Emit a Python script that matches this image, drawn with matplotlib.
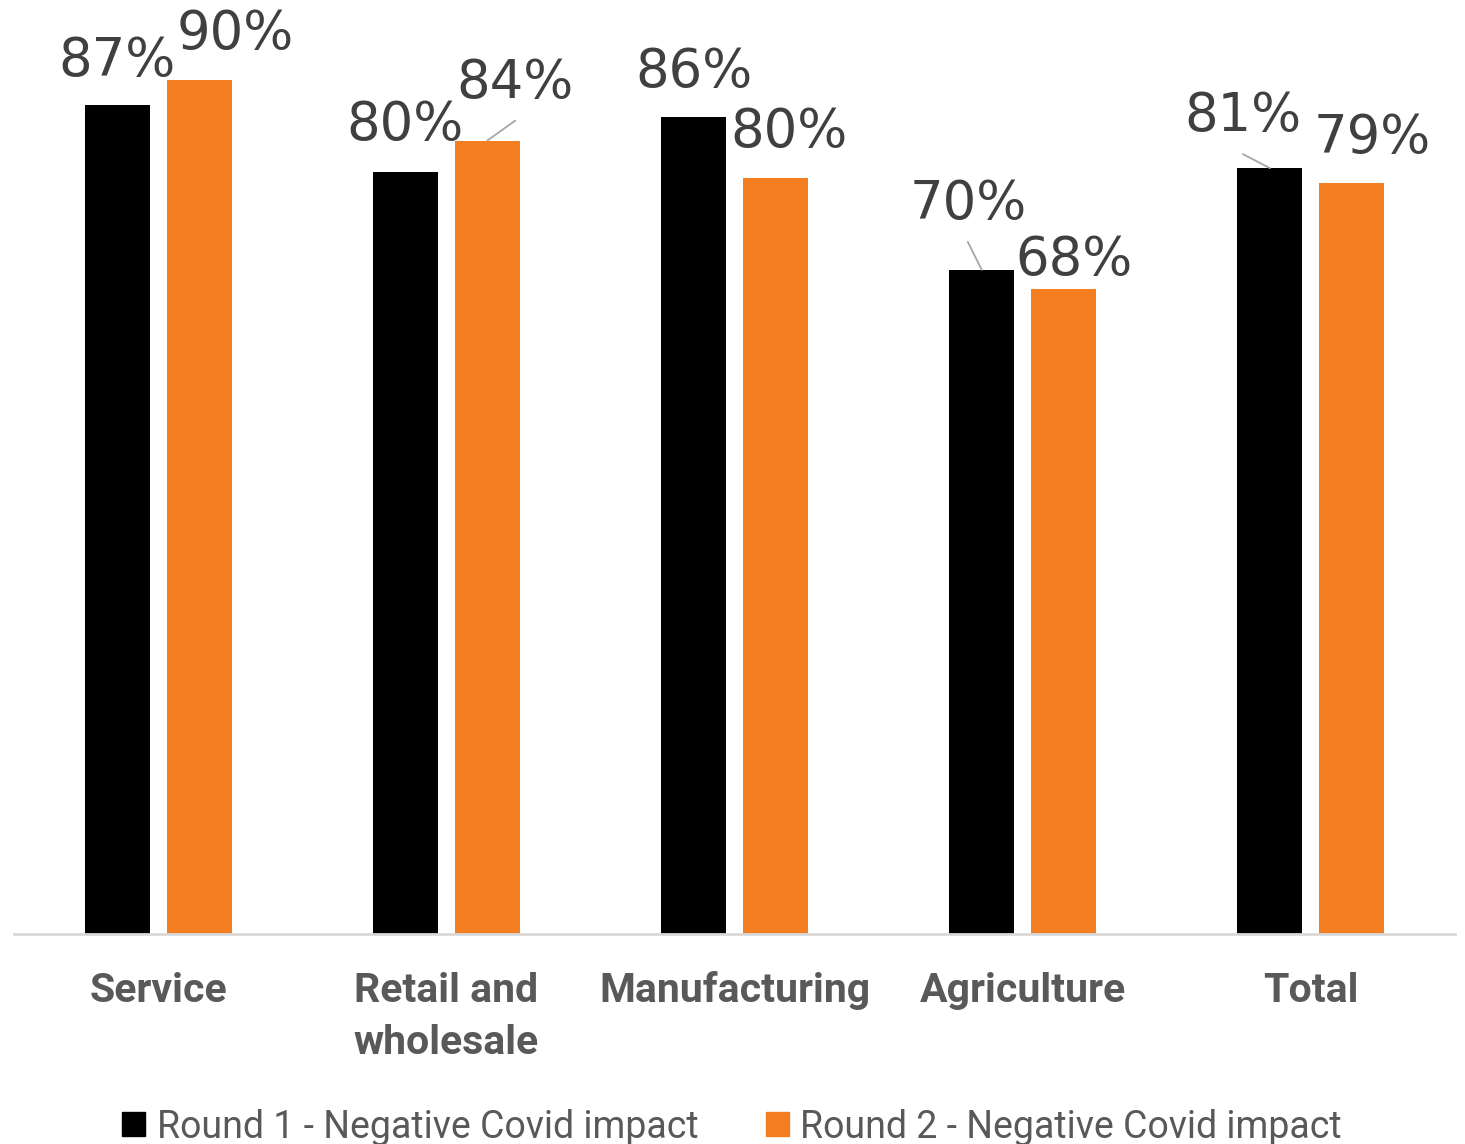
import numpy as np
import matplotlib
matplotlib.use("Agg")
import matplotlib.pyplot as plt
from matplotlib.patches import Patch

# data
categories = ["Service", "Retail and\nwholesale", "Manufacturing", "Agriculture", "Total"]
round1 = [0.872, 0.802, 0.860, 0.699, 0.806]
round2 = [0.899, 0.835, 0.796, 0.679, 0.790]
series_names = ["Round 1 - Negative Covid impact", "Round 2 - Negative Covid impact"]

# label offsets (pixels) from bar top, moved by hand like in the original
off1 = [(0, 29), (0, 32), (0, 30), (-14, 51), (-27, 37)]
off2 = [(36, 31), (28, 43), (14, 31), (10, 14), (20, 30)]
# leader lines: (series, category, end offset)
leaders = [(2, 1, (28, 20)), (1, 3, (-14, 28)), (1, 4, (-27, 14))]

c1 = "#000000"
c2 = "#f47d20"
txt_gray = "#404040"
cat_gray = "#595959"
narrow = ["Liberation Sans Narrow", "Roboto", "DejaVu Sans"]

fig = plt.figure(figsize=(14.65, 11.44), dpi=100)
ax = fig.add_axes([14 / 1465, 210 / 1144, 1441 / 1465, 934 / 1144])

x = np.arange(len(categories))
w = 0.2255
d = 0.142
b1 = ax.bar(x - d, round1, w, color=c1)
b2 = ax.bar(x + d, round2, w, color=c2)

ax.set_xlim(-0.5, len(categories) - 0.5)
ax.set_ylim(0, 0.983)

for vals, xs, offs in [(round1, x - d, off1), (round2, x + d, off2)]:
    for xi, v, (dx, dy) in zip(xs, vals, offs):
        ax.annotate(f"{round(v * 100):.0f}%", xy=(xi, v), xytext=(dx, dy),
                    textcoords="offset pixels", ha="center", va="baseline",
                    fontsize=38, color=txt_gray, annotation_clip=False)

for s, i, (dx, dy) in leaders:
    xi = x[i] - d if s == 1 else x[i] + d
    v = round1[i] if s == 1 else round2[i]
    ax.annotate("", xy=(xi, v), xytext=(dx, dy), textcoords="offset pixels",
                arrowprops=dict(arrowstyle="-", color="#a6a6a6", lw=1.3,
                                shrinkA=0, shrinkB=0))

ax.set_xticks(x)
ax.set_xticklabels(categories, fontsize=29.5, fontweight="bold", color=cat_gray,
                   family=narrow, linespacing=1.5, va="top")
ax.tick_params(axis="x", length=0, pad=27)
ax.set_yticks([])
for s in ["top", "left", "right"]:
    ax.spines[s].set_visible(False)
ax.spines["bottom"].set_color("#d9d9d9")
ax.spines["bottom"].set_linewidth(2)

handles = [Patch(color=c1, label=series_names[0]), Patch(color=c2, label=series_names[1])]
fig.legend(handles=handles, loc="center", bbox_to_anchor=(732 / 1465, 1 - 1127 / 1144),
           ncol=2, frameon=False, prop={"family": narrow, "size": 27},
           labelcolor=cat_gray, handlelength=0.62, handleheight=0.62,
           handletextpad=0.3, columnspacing=1.8, borderpad=0, borderaxespad=0)

fig.savefig("out.png", dpi=100)
